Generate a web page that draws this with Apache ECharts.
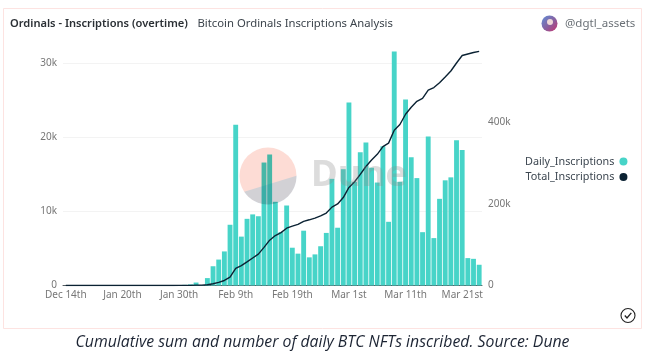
<!DOCTYPE html>
<html><head><meta charset="utf-8">
<style>html,body{margin:0;padding:0;background:#fff}#c{width:665px;height:358px}</style>
<script src="https://cdn.jsdelivr.net/npm/echarts@6/dist/echarts.min.js"></script>
</head><body><div id="c"></div>
<script>
const titleText = 'Ordinals - Inscriptions (overtime)';
const subtitleText = 'Bitcoin Ordinals Inscriptions Analysis';
const handleText = '@dgtl_assets';
const captionText = 'Cumulative sum and number of daily BTC NFTs inscribed. Source: Dune';
const categories = ['Dec 14th','Dec 15th','Dec 17th','Dec 19th','Dec 22nd','Dec 26th','Jan 2nd','Jan 8th','Jan 14th','Jan 17th',
 'Jan 20th','Jan 21st','Jan 22nd','Jan 23rd','Jan 24th','Jan 25th','Jan 26th','Jan 27th','Jan 28th','Jan 29th',
 'Jan 30th','Jan 31st','Feb 1st','Feb 2nd','Feb 3rd','Feb 4th','Feb 5th','Feb 6th','Feb 7th','Feb 8th',
 'Feb 9th','Feb 10th','Feb 11th','Feb 12th','Feb 13th','Feb 14th','Feb 15th','Feb 16th','Feb 17th','Feb 18th',
 'Feb 19th','Feb 20th','Feb 21st','Feb 22nd','Feb 23rd','Feb 24th','Feb 25th','Feb 26th','Feb 27th','Feb 28th',
 'Mar 1st','Mar 2nd','Mar 3rd','Mar 4th','Mar 5th','Mar 6th','Mar 7th','Mar 8th','Mar 9th','Mar 10th',
 'Mar 11th','Mar 12th','Mar 13th','Mar 14th','Mar 15th','Mar 16th','Mar 17th','Mar 18th','Mar 19th','Mar 20th',
 'Mar 21st','Mar 22nd','Mar 23rd','Mar 24th'];
const dailyInscriptions = [5,3,2,2,3,4,3,4,5,8,
 6,8,5,10,8,12,10,15,12,20,
 40,90,150,400,50,1000,2600,3500,4600,8200,
 21700,6600,9000,9600,9350,16600,17700,11300,7200,10800,
 5100,4300,7400,3800,4200,5300,7100,14400,7800,15700,
 24700,14000,18000,19300,15900,13900,18800,8600,31600,14000,
 25100,17300,14500,7200,20100,6400,11700,14200,14600,19600,
 18300,3700,3600,2800];
const totalInscriptions = [5,8,10,12,15,19,22,26,31,39,
 45,53,58,68,76,88,98,113,125,145,
 185,275,425,825,875,1875,4200,7700,12300,20500,
 42200,48800,57800,67400,76750,93350,111000,122300,129500,140300,
 145400,149700,157100,160900,165100,170400,177500,191900,199700,215400,
 240100,254100,272100,291400,307300,321200,340000,348600,380200,394200,
 419300,436600,451100,458300,478400,484800,496500,510700,525300,544900,
 563200,566900,570500,573300];
const leftTicks = 10000, rightTicks = 200000;
const fmt = v => v === 0 ? '0' : (v / 1000) + 'k';
const labelFont = 'Noto Sans, sans-serif';
// lower part of the watermark disc
const logoPts = [];
for (let a = -0.6; a <= 146.5; a += 3) {
  logoPts.push([268 + 28.5 * Math.cos(a * Math.PI / 180), 176 + 28.5 * Math.sin(a * Math.PI / 180)]);
}
const chart = echarts.init(document.getElementById('c'), null, {renderer:'canvas'});
chart.setOption({
  animation:false,
  backgroundColor:'#fff',
  grid:{left:63,right:183,top:50.7,bottom:72.5,containLabel:false},
  legend:{
    orient:'vertical', left:520, top:151, align:'right', icon:'circle',
    itemWidth:8, itemHeight:8, itemGap:4.5,
    textStyle:{color:'#3c4650',fontSize:10.8,fontFamily:labelFont},
    data:['Daily_Inscriptions','Total_Inscriptions']
  },
  xAxis:{type:'category',data:categories,
    axisLine:{lineStyle:{color:'#555b60',width:1}},axisTick:{show:false},
    axisLabel:{interval:9,color:'#777',fontSize:10,fontFamily:labelFont,margin:5,hideOverlap:false}},
  yAxis:[
    {type:'value',min:0,max:31700,interval:leftTicks,
     axisLine:{show:false},axisTick:{show:false},
     splitLine:{lineStyle:{color:'#f3f3f3',width:1},showMaxLine:false},
     axisLabel:{formatter:fmt,color:'#777',fontSize:10,fontFamily:labelFont,margin:6,showMaxLabel:false}},
    {type:'value',min:0,max:575000,interval:rightTicks,position:'right',
     axisLine:{show:false},axisTick:{show:false},splitLine:{show:false},
     axisLabel:{formatter:fmt,color:'#777',fontSize:10,fontFamily:labelFont,margin:6,showMaxLabel:false}}
  ],
  series:[
    {name:'Daily_Inscriptions',type:'bar',data:dailyInscriptions,yAxisIndex:0,barCategoryGap:'14%',
     itemStyle:{color:'#47d4c8'}},
    {name:'Total_Inscriptions',type:'line',data:totalInscriptions,yAxisIndex:1,showSymbol:false,symbol:'circle',
     lineStyle:{color:'#0b2233',width:1.4},itemStyle:{color:'#0b2233'},z:5}
  ],
  graphic:[
    {type:'rect',z:0,silent:true,shape:{x:3.5,y:8.5,width:638,height:320},style:{fill:'none',stroke:'#fde3e1',lineWidth:1}},
    {type:'text',z:20,style:{x:10,y:23.5,verticalAlign:'middle',text:titleText,font:'600 11.1px "Noto Sans", sans-serif',fill:'#2b3035'}},
    {type:'text',z:20,style:{x:197.5,y:23.5,verticalAlign:'middle',text:subtitleText,font:'11.3px "Noto Sans", sans-serif',fill:'#3c444c'}},
    {type:'text',z:20,style:{x:565,y:23.5,verticalAlign:'middle',text:handleText,font:'11.5px "Noto Sans", sans-serif',fill:'#6a7076'}},
    {type:'circle',z:20,shape:{cx:549.5,cy:23.5,r:8},style:{fill:new echarts.graphic.LinearGradient(0,0,1,1,[{offset:0,color:'#5f8fd8'},{offset:.55,color:'#8a5f9e'},{offset:1,color:'#c8326e'}])}},
    {type:'circle',z:21,shape:{cx:550,cy:22,r:3},style:{fill:'#efd8d8'}},
    {type:'text',z:20,style:{x:322.5,y:342,text:captionText,align:'center',verticalAlign:'middle',font:'italic 15.8px "Open Sans", sans-serif',fill:'#1c2433'}},
    {type:'circle',z:20,shape:{cx:628,cy:315.5,r:7},style:{fill:'#fff',stroke:'#222',lineWidth:1.1}},
    {type:'polyline',z:21,shape:{points:[[624.8,315.5],[627,318],[631.3,312.8]]},style:{fill:'none',stroke:'#222',lineWidth:1.3}},
    {type:'circle',z:30,silent:true,shape:{cx:268,cy:176,r:28.5},style:{fill:'#fddcd5',blend:'multiply'}},
    {type:'polygon',z:31,silent:true,shape:{points:logoPts},style:{fill:'#d4f3ff',blend:'multiply'}},
    {type:'text',z:30,silent:true,style:{x:311,y:176,text:'Dune',verticalAlign:'middle',font:'700 36.5px "Noto Sans", sans-serif',fill:'rgba(140,140,140,0.3)'}}
  ]
});
</script></body></html>
